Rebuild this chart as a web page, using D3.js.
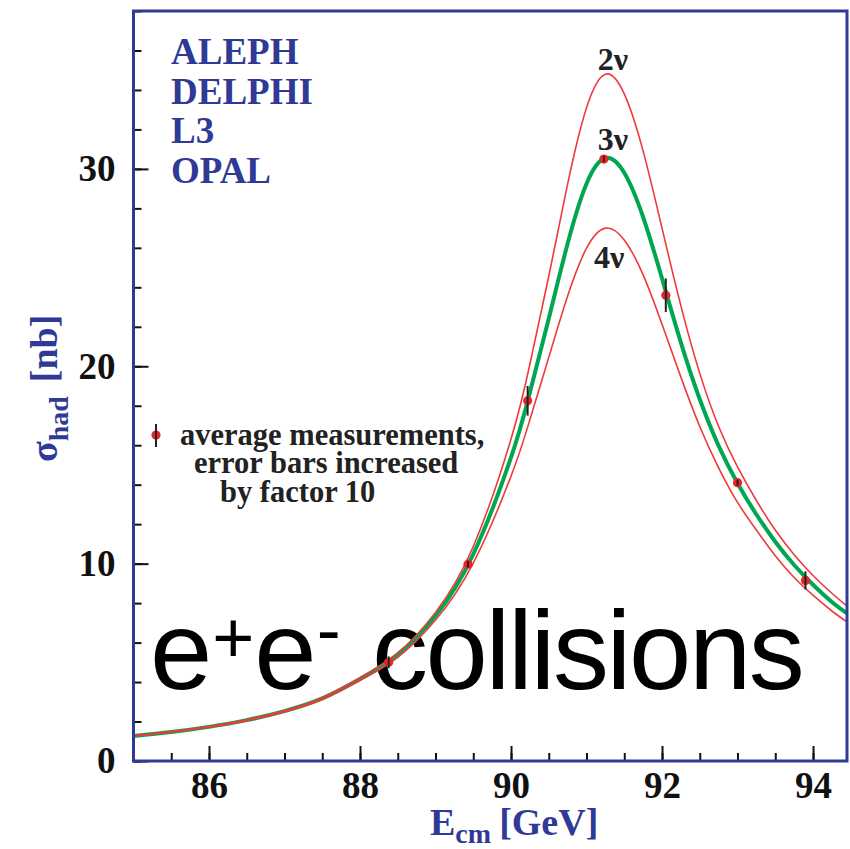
<!DOCTYPE html>
<html>
<head>
<meta charset="utf-8">
<script src="https://cdn.jsdelivr.net/npm/d3@7"></script>
<style>
  body { margin: 0; background: #fff; }
  svg { display: block; }
</style>
</head>
<body>
<div id="chart"></div>
<script>
// hadronic cross section around the Z pole

// curve sample energies (GeV)
var energy = [85.0, 85.5, 86.0, 86.5, 87.0, 87.5, 88.0, 88.5, 89.0, 89.5, 90.0, 90.25, 90.5, 90.75,
              91.0, 91.25, 91.5, 91.75, 92.0, 92.25, 92.5, 92.75, 93.0, 93.25, 93.5, 93.75, 94.0, 94.25, 94.45];

// 3 neutrino families (green)
var sigma3nu = [1.27, 1.47, 1.73, 2.07, 2.53, 3.17, 4.15, 5.4, 7.36, 10.48, 15.38, 18.67, 22.42, 26.22,
                29.25, 30.55, 29.8, 27.55, 24.45, 21.2, 18.33, 15.97, 14.07, 12.49, 11.11, 9.93, 8.93, 8.06, 7.48];
// 2 neutrino families
var sigma2nu = [1.28, 1.49, 1.75, 2.09, 2.55, 3.21, 4.22, 5.47, 7.53, 10.87, 16.31, 20.1, 24.56, 29.24,
                33.1, 34.8, 33.8, 30.9, 27.0, 23.06, 19.64, 16.95, 14.9, 13.2, 11.7, 10.45, 9.4, 8.5, 7.85];
// 4 neutrino families
var sigma4nu = [1.26, 1.46, 1.71, 2.04, 2.49, 3.11, 4.08, 5.25, 7.14, 10.03, 14.43, 17.29, 20.45, 23.56,
                25.98, 27.0, 26.4, 24.63, 22.13, 19.45, 16.95, 14.85, 13.1, 11.7, 10.4, 9.3, 8.4, 7.6, 7.05];

// averaged measurements (error already x10)
var measEnergy = [88.38, 89.43, 90.22, 91.23, 92.05, 93.0, 93.9];
var measSigma  = [5.0, 9.97, 18.25, 30.5, 23.6, 14.1, 9.15];
var measError  = [0.3, 0.17, 0.75, 0.15, 0.85, 0.15, 0.46];

var xTicks = [86, 88, 90, 92, 94];
var yTicks = [0, 10, 20, 30];
var experiments = ['ALEPH', 'DELPHI', 'L3', 'OPAL'];
var legendLines = ['average measurements,', 'error bars increased', 'by factor 10'];
var curveLabels = [{ txt: '2', e: 91.35, s: 35.0 }, { txt: '3', e: 91.35, s: 30.95 }, { txt: '4', e: 91.3, s: 24.97 }];

var W = 850, H = 849;
var margin = { top: 11, right: 3, bottom: 88, left: 133.5 };
var blue = '#2f3a96';
var serif = '"Liberation Serif", "Times New Roman", serif';

var svg = d3.select('#chart').append('svg').attr('width', W).attr('height', H);

var x = d3.scaleLinear().domain([85, 94.45]).range([margin.left, W - margin.right]);
var y = d3.scaleLinear().domain([0, 38]).range([H - margin.bottom, margin.top]);

// big label under the curves
var big = svg.append('text')
    .attr('x', 150).attr('y', 689)
    .style('font-family', '"Liberation Sans", Arial, sans-serif')
    .style('font-size', '112px')
    .attr('fill', '#000');
big.append('tspan').text('e');
big.append('tspan').attr('dy', -27).style('font-size', '72px').text('+');
big.append('tspan').attr('dy', 27).text('e');
big.append('tspan').attr('dy', -35).style('font-size', '72px').text('-');
big.append('tspan').attr('x', 372).attr('dy', 35).style('letter-spacing', '-2.4px').text('collisions');

// clip for curves
svg.append('clipPath').attr('id', 'plotclip').append('rect')
    .attr('x', margin.left).attr('y', margin.top)
    .attr('width', W - margin.right - margin.left).attr('height', H - margin.bottom - margin.top);

function drawCurve(vals, color, width) {
    var line = d3.line()
        .x(function(d, i) { return x(energy[i]); })
        .y(function(d) { return y(d); })
        .curve(d3.curveNatural);
    svg.append('path')
        .attr('clip-path', 'url(#plotclip)')
        .attr('d', line(vals))
        .attr('fill', 'none')
        .attr('stroke', color)
        .attr('stroke-width', width);
}

drawCurve(sigma3nu, '#00a651', 4);
drawCurve(sigma2nu, '#ef3a3a', 1.6);
drawCurve(sigma4nu, '#ef3a3a', 1.6);

// measurements
measEnergy.forEach(function(e, i) {
    svg.append('circle')
        .attr('cx', x(e)).attr('cy', y(measSigma[i])).attr('r', 4.6)
        .attr('fill', '#e8262a');
    svg.append('line')
        .attr('x1', x(e)).attr('x2', x(e))
        .attr('y1', y(measSigma[i] - measError[i])).attr('y2', y(measSigma[i] + measError[i]))
        .attr('stroke', '#222').attr('stroke-width', 2);
});

// axes, ticks pointing inwards
var axisFont = function(g) {
    g.select('.domain').remove();
    g.selectAll('line').attr('stroke', '#111').attr('stroke-width', 2);
    g.selectAll('text')
        .style('font-family', serif).style('font-weight', 'bold').style('font-size', '37px')
        .attr('fill', '#111');
};

svg.append('g')
    .attr('transform', 'translate(0,' + (H - margin.bottom) + ')')
    .call(d3.axisBottom(x).tickValues(d3.range(85.5, 94.45, 0.5)).tickSize(-8).tickFormat(''))
    .call(axisFont);
svg.append('g')
    .attr('transform', 'translate(0,' + (H - margin.bottom) + ')')
    .call(d3.axisBottom(x).tickValues(xTicks).tickSize(-15).tickPadding(11).tickFormat(d3.format('d')))
    .call(axisFont);

svg.append('g')
    .attr('transform', 'translate(' + margin.left + ',0)')
    .call(d3.axisLeft(y).tickValues(d3.range(0, 38.1, 2)).tickSize(-8).tickFormat(''))
    .call(axisFont);
svg.append('g')
    .attr('transform', 'translate(' + margin.left + ',0)')
    .call(d3.axisLeft(y).tickValues(yTicks).tickSize(-15).tickPadding(18).tickFormat(d3.format('d')))
    .call(axisFont);

// frame
svg.append('rect')
    .attr('x', margin.left).attr('y', margin.top)
    .attr('width', W - margin.right - margin.left).attr('height', H - margin.bottom - margin.top)
    .attr('fill', 'none').attr('stroke', blue).attr('stroke-width', 3);

// axis titles
var xt = svg.append('text')
    .attr('x', 430).attr('y', 835)
    .style('font-family', serif).style('font-weight', 'bold').style('font-size', '38px')
    .attr('fill', blue);
xt.append('tspan').text('E');
xt.append('tspan').attr('dy', 8).style('font-size', '28px').text('cm');
xt.append('tspan').attr('dy', -8).attr('dx', 8).text('[GeV]');

var yt = svg.append('text')
    .attr('transform', 'translate(57,462) rotate(-90)')
    .style('font-family', serif).style('font-weight', 'bold').style('font-size', '38px')
    .attr('fill', blue);
yt.append('tspan').text('\u03c3');
yt.append('tspan').attr('dy', 11).style('font-size', '28px').text('had');
yt.append('tspan').attr('dy', -11).attr('dx', 14).text('[nb]');

// experiments
svg.selectAll('.exp').data(experiments).enter().append('text')
    .attr('x', 171).attr('y', function(d, i) { return 64 + i * 39.5; })
    .style('font-family', serif).style('font-weight', 'bold').style('font-size', '37px')
    .attr('fill', blue)
    .text(function(d) { return d; });

// curve labels
curveLabels.forEach(function(c) {
    svg.append('text')
        .attr('x', x(c.e)).attr('y', y(c.s))
        .attr('text-anchor', 'middle')
        .style('font-family', serif).style('font-weight', 'bold').style('font-size', '32px')
        .attr('fill', '#222')
        .text(c.txt + '\u03bd');
});

// legend for the points
svg.append('circle').attr('cx', 156).attr('cy', 435).attr('r', 4.6).attr('fill', '#e8262a');
svg.append('line').attr('x1', 156).attr('x2', 156).attr('y1', 424).attr('y2', 447)
    .attr('stroke', '#222').attr('stroke-width', 2);
var legX = [180, 194, 220];
legendLines.forEach(function(t, i) {
    svg.append('text')
        .attr('x', legX[i]).attr('y', 445 + i * 28.3)
        .style('font-family', serif).style('font-weight', 'bold').style('font-size', '30.5px')
        .attr('fill', '#222')
        .text(t);
});
</script>
</body>
</html>
